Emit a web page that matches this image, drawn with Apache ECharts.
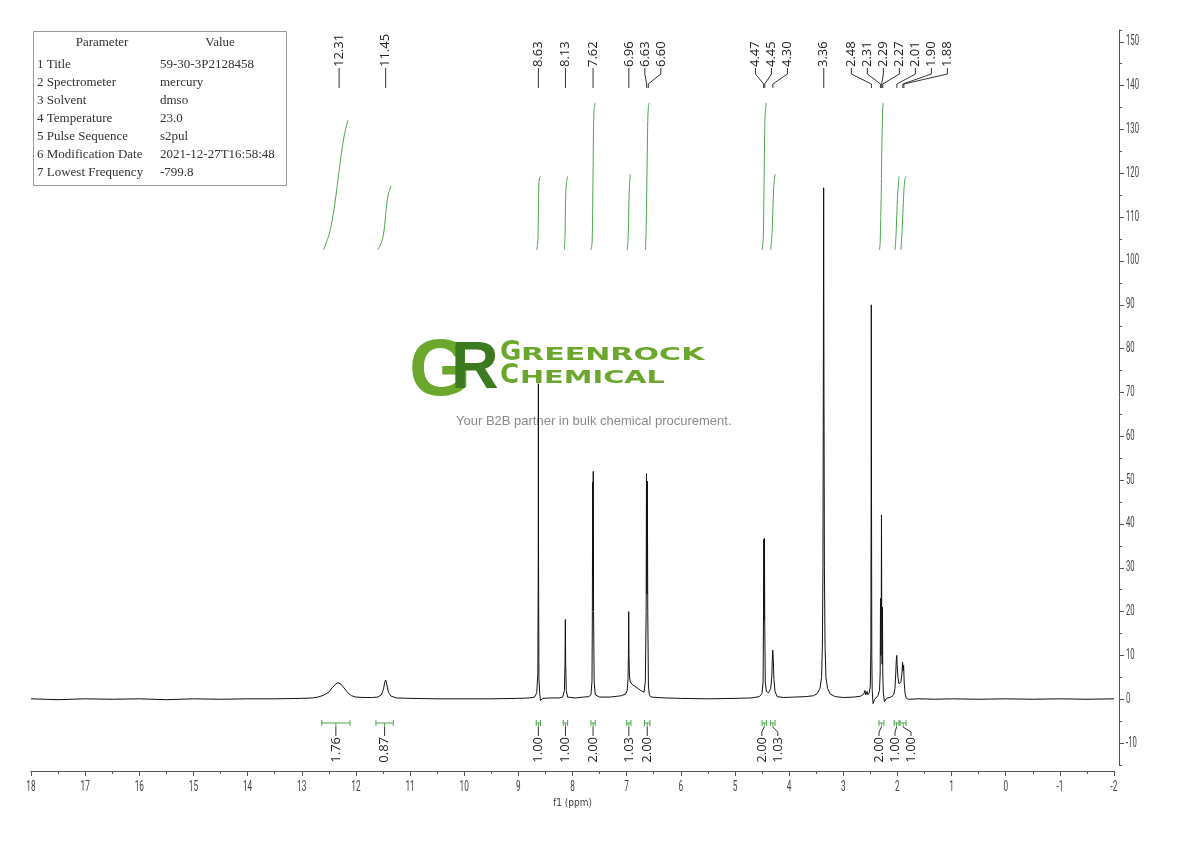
<!DOCTYPE html>
<html><head><meta charset="utf-8">
<script src="https://cdn.jsdelivr.net/npm/echarts@6/dist/echarts.min.js"></script>
<style>html,body{margin:0;padding:0;background:#fff}#c{width:1190px;height:841px}</style>
</head><body><div id="c"></div>
<script>
// ---- data ----
const spectrum = [
[18.00,0.1],[17.5,-0.1],[17.0,0.1],[16.5,0.0],[16.0,0.1],[15.5,-0.1],[15.0,0.1],[14.5,0.0],[14.0,0.1],[13.5,0.1],[13.0,0.2],[12.8,0.3],
[12.70,0.5],[12.60,0.9],[12.50,1.6],[12.44,2.6],[12.38,3.4],[12.33,3.8],[12.28,3.5],[12.22,2.6],[12.15,1.5],[12.08,0.8],[12.00,0.5],[11.85,0.4],[11.70,0.4],
[11.60,0.5],[11.53,1.0],[11.49,2.3],[11.47,3.8],[11.45,4.4],[11.43,3.4],[11.40,1.6],[11.35,0.7],[11.25,0.3],
[11.0,0.2],[10.5,0.1],[10.0,0.1],[9.5,0.1],[9.0,0.2],[8.80,0.3],
[8.70,0.5],[8.66,1.5],[8.64,6],[8.633,30],[8.630,72],[8.627,30],[8.62,5],[8.605,1.2],[8.59,-0.3],[8.55,0.2],[8.40,0.3],[8.25,0.3],
[8.18,0.5],[8.15,2],[8.138,8],[8.132,18.2],[8.126,8],[8.115,2],[8.09,0.5],[7.95,0.3],[7.80,0.5],[7.70,0.6],
[7.66,1],[7.64,4],[7.633,20],[7.628,49.5],[7.622,28],[7.617,52],[7.611,20],[7.60,4],[7.58,1],[7.50,0.5],[7.30,0.5],[7.10,0.8],
[7.02,1.2],[6.99,2.0],[6.975,4.5],[6.967,10],[6.962,20],[6.957,10],[6.948,5.5],[6.935,4],[6.90,3.4],[6.82,2.7],[6.74,2.0],[6.68,1.6],
[6.655,4],[6.640,20],[6.634,51.5],[6.626,24],[6.618,49.8],[6.610,20],[6.598,3],[6.58,1],[6.55,0.5],[6.3,0.3],[6.0,0.2],[5.5,0.1],[5.0,0.2],[4.7,0.3],
[4.55,0.6],[4.50,1.3],[4.48,4],[4.472,20],[4.467,36.5],[4.461,18],[4.455,36.8],[4.450,18],[4.44,4],[4.42,1.8],[4.38,1.5],
[4.34,2.5],[4.32,5],[4.31,9],[4.302,11.2],[4.293,9.5],[4.28,4.5],[4.26,1.8],[4.22,0.6],[4.1,0.4],[3.9,0.5],[3.7,0.6],[3.55,0.8],
[3.48,1.3],[3.43,2.5],[3.40,5],[3.385,12],[3.375,30],[3.368,70],[3.362,116.7],[3.356,70],[3.348,30],[3.336,12],[3.32,5],[3.29,2.5],[3.24,1.2],[3.15,0.6],[3.0,0.4],[2.8,0.5],[2.68,0.7],
[2.62,1.2],[2.60,2.0],[2.585,1.0],[2.56,1.8],[2.545,1.0],[2.52,1.5],[2.50,3],[2.49,12],[2.485,45],[2.482,90],[2.478,45],[2.473,10],[2.465,2],[2.45,-1],[2.42,0],[2.36,0.8],
[2.33,2],[2.318,6],[2.312,23],[2.306,10],[2.298,20],[2.294,42],[2.289,18],[2.282,8],[2.276,21],[2.27,6],[2.26,1.5],[2.24,-0.5],[2.20,0.2],[2.12,0.5],
[2.07,1],[2.045,2.5],[2.03,6],[2.02,9],[2.012,10],[2.005,8],[1.99,5],[1.97,3.5],[1.955,3.2],[1.935,4],[1.915,6],[1.905,8.5],[1.895,6.5],[1.885,7.8],[1.875,4],[1.86,1.5],[1.84,0.3],[1.80,0],
[1.6,0.1],[1.3,0.0],[1.0,0.1],[0.5,0.0],[0.0,0.1],[-0.5,0.0],[-1.0,0.1],[-1.5,0.0],[-2.0,0.1]
];
const peakLabels = [12.31, 11.45, 8.63, 8.13, 7.62, 6.96, 6.63, 6.60, 4.47, 4.45, 4.30, 3.36, 2.48, 2.31, 2.29, 2.27, 2.01, 1.90, 1.88];
const integralRanges = [[12.63,12.11],[11.63,11.31],[8.67,8.59],[8.17,8.09],[7.66,7.58],[7.00,6.92],[6.67,6.57],[4.50,4.42],[4.34,4.26],[2.34,2.25],[2.06,1.97],[1.95,1.84]];
const integralValues = [1.76, 0.87, 1.00, 1.00, 2.00, 1.03, 2.00, 2.00, 1.03, 2.00, 1.00, 1.00];
const integralBase = 102.5;     // integral curves start level (intensity units)
const integralPerUnit = 16.8;   // intensity units per integral unit
const xTickLabels = [18,17,16,15,14,13,12,11,10,9,8,7,6,5,4,3,2,1,0,-1,-2];
const yTickLabels = [150,140,130,120,110,100,90,80,70,60,50,40,30,20,10,0,-10];
const paramNames = ['Title','Spectrometer','Solvent','Temperature','Pulse Sequence','Modification Date','Lowest Frequency'];
const paramValues = ['59-30-3P2128458','mercury','dmso','23.0','s2pul','2021-12-27T16:58:48','-799.8'];

// ---- helpers ----
function integralCurve(hi, lo, value) {
  const pts = spectrum.filter(p => p[0] <= hi && p[0] >= lo);
  let cum = [0];
  for (let i = 1; i < pts.length; i++) {
    const a = Math.max(pts[i-1][1], 0), b = Math.max(pts[i][1], 0);
    cum.push(cum[i-1] + (a + b) / 2 * (pts[i-1][0] - pts[i][0]));
  }
  const tot = cum[cum.length-1] || 1;
  return pts.map((p, i) => [p[0], integralBase + cum[i] / tot * value * integralPerUnit]);
}
function spread(xs, gap, k) {
  const n = xs.length, pos = xs.slice();
  const pushed = new Array(n).fill(false);
  for (let i = 1; i < n; i++) if (pos[i] < pos[i-1] + gap) { pos[i] = pos[i-1] + gap; pushed[i] = true; }
  let s = 0;
  for (let i = 1; i <= n; i++) {
    if (i === n || !pushed[i]) {
      if (i - 1 > s) {
        let mp = 0, mt = 0;
        for (let j = s; j < i; j++) { mp += pos[j]; mt += xs[j]; }
        const sh = -k * (mp - mt) / (i - s);
        for (let j = s; j < i; j++) pos[j] += sh;
      }
      s = i;
    }
  }
  for (let i = 1; i < n; i++) if (pos[i] < pos[i-1] + gap) pos[i] = pos[i-1] + gap;
  return pos;
}

const tickFont = '15px Roboto';
const green = '#4da64d';
const serif = '13px "Liberation Serif"';

const integralSeries = integralRanges.map((r, i) => ({
  type: 'line', xAxisIndex: 0, yAxisIndex: 0, data: integralCurve(r[0], r[1], integralValues[i]),
  showSymbol: false, smooth: 0.3, lineStyle: { color: green, width: 1 }, silent: true, z: 3, animation: false
}));

const chart = echarts.init(document.getElementById('c'), null, { renderer: 'canvas' });

const tableEls = [
  { type: 'rect', shape: { x: 33.5, y: 31.5, width: 253, height: 154 }, style: { fill: '#fff', stroke: '#999', lineWidth: 1 } },
  { type: 'text', x: 102, y: 43, style: { text: 'Parameter', font: serif, fill: '#333', align: 'center', verticalAlign: 'middle' } },
  { type: 'text', x: 220, y: 43, style: { text: 'Value', font: serif, fill: '#333', align: 'center', verticalAlign: 'middle' } }
];
paramNames.forEach((n, i) => {
  tableEls.push({ type: 'text', x: 37, y: 65 + 18 * i, style: { text: (i + 1) + ' ' + n, font: serif, fill: '#333', align: 'left', verticalAlign: 'middle' } });
  tableEls.push({ type: 'text', x: 160, y: 65 + 18 * i, style: { text: paramValues[i], font: serif, fill: '#333', align: 'left', verticalAlign: 'middle' } });
});
const logoEls = [
  { type: 'text', x: 409, y: 373, z: -1, style: { text: 'G', font: 'bold 80px "Liberation Sans"', fill: '#6aa72c', align: 'left', verticalAlign: 'middle' } },
  { type: 'text', x: 451, y: 370, z: -1, style: { text: 'R', font: 'bold 66px "Liberation Sans"', fill: '#3b7a1e', align: 'left', verticalAlign: 'middle' } },
  { type: 'text', x: 500, y: 353, z: -1, scaleX: 1.0, style: { text: 'G', font: 'bold 26px "DejaVu Sans"', fill: '#6aa72c', align: 'left', verticalAlign: 'middle' } },
  { type: 'text', x: 521, y: 355, z: -1, scaleX: 1.67, style: { text: 'REENROCK', font: 'bold 18px "DejaVu Sans"', fill: '#6aa72c', align: 'left', verticalAlign: 'middle' } },
  { type: 'text', x: 500, y: 376, z: -1, scaleX: 1.0, style: { text: 'C', font: 'bold 26px "DejaVu Sans"', fill: '#6aa72c', align: 'left', verticalAlign: 'middle' } },
  { type: 'text', x: 520, y: 378, z: -1, scaleX: 1.6, style: { text: 'HEMICAL', font: 'bold 18px "DejaVu Sans"', fill: '#6aa72c', align: 'left', verticalAlign: 'middle' } },
  { type: 'text', x: 456, y: 421, z: -1, style: { text: 'Your B2B partner in bulk chemical procurement.', font: '13px "Liberation Sans"', fill: '#8a8a8a', align: 'left', verticalAlign: 'middle' } }
];

const option = {
  animation: false,
  backgroundColor: '#fff',
  grid: [
    { left: 31, right: 76, top: 30, bottom: 76 },
    { left: 31, right: 76, top: 41.84, bottom: 97.91 }
  ],
  xAxis: [
    { gridIndex: 0, type: 'value', min: -2, max: 18, inverse: true, interval: 1, offset: 6,
      axisLine: { onZero: false, lineStyle: { color: '#555', width: 1 } },
      axisTick: { length: 5, lineStyle: { color: '#555' } },
      minorTick: { show: true, splitNumber: 2, length: 3, lineStyle: { color: '#555' } },
      splitLine: { show: false }, minorSplitLine: { show: false },
      axisLabel: { show: false },
      name: 'f1 (ppm)', nameLocation: 'middle', nameGap: 27,
      nameTextStyle: { fontFamily: '"DejaVu Sans Condensed"', fontSize: 10, color: '#444' } },
    { gridIndex: 1, type: 'value', min: -2, max: 18, inverse: true, show: false }
  ],
  yAxis: [
    { gridIndex: 0, type: 'value', position: 'right', offset: 5, min: -15, max: 152.7, interval: 5,
      axisLine: { show: true, onZero: false, lineStyle: { color: '#555' } },
      axisTick: { show: true, length: 3, lineStyle: { color: '#555' } },
      axisLabel: { show: false }, splitLine: { show: false } },
    { gridIndex: 1, type: 'value', position: 'right', offset: 5, min: -10, max: 150, interval: 10,
      axisLine: { show: false, onZero: false },
      axisTick: { show: true, length: 5, lineStyle: { color: '#555' } },
      axisLabel: { show: false },
      splitLine: { show: false } }
  ],
  graphic: { elements: logoEls.concat(tableEls) },
  series: [
    { type: 'line', xAxisIndex: 0, yAxisIndex: 0, data: spectrum, showSymbol: false, sampling: null,
      lineStyle: { color: '#111', width: 1 }, silent: true, z: 4 },
    ...integralSeries,
    // x tick labels (narrow)
    { type: 'custom', xAxisIndex: 0, yAxisIndex: 0, data: xTickLabels.map(v => [v, 0]), silent: true, z: 5,
      encode: { x: 0, y: 1 },
      renderItem: (params, api) => {
        const cs = params.coordSys;
        const v = xTickLabels[params.dataIndex];
        return { type: 'text', x: api.coord([v, 0])[0], y: cs.y + cs.height + 22, scaleX: 0.55,
          style: { text: String(v), font: tickFont, fill: '#444', align: 'center', verticalAlign: 'middle' } };
      } },
    // y tick labels (narrow)
    { type: 'custom', xAxisIndex: 0, yAxisIndex: 0, data: yTickLabels.map(v => [8, v]), silent: true, z: 5,
      encode: { x: 0, y: 1 },
      renderItem: (params, api) => {
        const cs = params.coordSys;
        const v = yTickLabels[params.dataIndex];
        return { type: 'text', x: cs.x + cs.width + 12, y: api.coord([8, v])[1], scaleX: 0.55,
          style: { text: String(v), font: '14px Roboto', fill: '#444', align: 'left', verticalAlign: 'middle' } };
      } },
    // peak labels
    { type: 'custom', xAxisIndex: 0, yAxisIndex: 0, data: peakLabels.map(p => [p, 0]), silent: true, z: 5,
      encode: { x: 0, y: 1 },
      renderItem: (params, api) => {
        const cs = params.coordSys;
        const xs = peakLabels.map(p => api.coord([p, 0])[0]);
        const pos = spread(xs, 16, 0.65);
        const i = params.dataIndex, xP = xs[i], xL = pos[i];
        const yT = cs.y + 37;
        return { type: 'group', children: [
          { type: 'text', x: xL, y: yT, rotation: Math.PI / 2,
            style: { text: peakLabels[i].toFixed(2), font: '13px "Open Sans"', fill: '#222', align: 'left', verticalAlign: 'middle' } },
          { type: 'polyline', shape: { points: [[xL, yT + 1], [xL, yT + 7], [xP, yT + 17], [xP, yT + 21]] },
            style: { stroke: '#333', lineWidth: 1, fill: null } }
        ] };
      } },
    // integration brackets and values
    { type: 'custom', xAxisIndex: 0, yAxisIndex: 0, data: integralRanges.map(r => [(r[0] + r[1]) / 2, 0]), silent: true, z: 5,
      encode: { x: 0, y: 1 },
      renderItem: (params, api) => {
        const cs = params.coordSys;
        const x1s = integralRanges.map(r => api.coord([r[0], 0])[0]);
        const x2s = integralRanges.map(r => api.coord([r[1], 0])[0]);
        const xc = x1s.map((x, j) => (x + x2s[j]) / 2);
        const pos = spread(xc, 16, 0.65);
        const i = params.dataIndex, x1 = x1s[i], x2 = x2s[i], xP = xc[i], xL = pos[i];
        const yB = cs.y + cs.height - 42;
        return { type: 'group', children: [
          { type: 'polyline', shape: { points: [[x1, yB], [x2, yB]] }, style: { stroke: green, lineWidth: 1, fill: null } },
          { type: 'polyline', shape: { points: [[x1, yB - 3], [x1, yB + 3]] }, style: { stroke: green, lineWidth: 1, fill: null } },
          { type: 'polyline', shape: { points: [[x2, yB - 3], [x2, yB + 3]] }, style: { stroke: green, lineWidth: 1, fill: null } },
          { type: 'polyline', shape: { points: [[xP, yB], [xP, yB + 4]] }, style: { stroke: green, lineWidth: 1, fill: null } },
          { type: 'polyline', shape: { points: [[xP, yB + 4], [xL, yB + 9], [xL, yB + 13]] }, style: { stroke: '#333', lineWidth: 1, fill: null } },
          { type: 'text', x: xL, y: yB + 14, rotation: Math.PI / 2,
            style: { text: integralValues[i].toFixed(2), font: '13px "Open Sans"', fill: '#222', align: 'right', verticalAlign: 'middle' } }
        ] };
      } }
  ]
};
chart.setOption(option);
</script>
</body></html>
